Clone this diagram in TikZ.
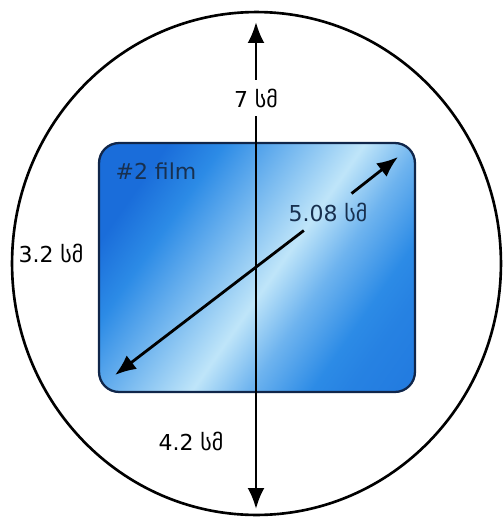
\documentclass[tikz,border=0pt]{standalone}
\usepackage{fontspec}
\setmainfont{DejaVu Sans}
\usepackage{xcolor}
\usepackage{tikz}
\usetikzlibrary{arrows.meta,shapes.geometric}
\definecolor{filmDark}{HTML}{1A6DDA}
\definecolor{filmMid}{HTML}{2C8BE6}
\definecolor{filmLight}{HTML}{BFE5F9}
\definecolor{filmEdge}{HTML}{10264A}
\definecolor{labelNavy}{HTML}{18304F}
\pgfdeclarehorizontalshading{filmshade}{100bp}{color(0bp)=(filmDark); color(25bp)=(filmDark); color(33bp)=(filmMid); color(44bp)=(filmLight!55!filmMid); color(53bp)=(filmLight); color(61bp)=(filmLight!45!filmMid); color(70bp)=(filmMid); color(75bp)=(filmMid!70!filmDark); color(100bp)=(filmDark)}

\begin{document}
\begin{tikzpicture}[x=0.02cm,y=-0.02cm,font=\fontsize{12.5}{14}\selectfont,
  dimarrow/.style={-{Latex[length=4.2mm,width=3.4mm]},line width=1.6pt},
  lbl/.style={inner sep=1pt},
  gap/.style={inner sep=5pt}]
\useasboundingbox (0,0) rectangle (503,521);
% --- dish and film ---
\node[ellipse,draw,line width=1.5pt,inner sep=0pt,
  minimum width=9.78cm,minimum height=10.06cm] (dish) at (256.5,263.5) {};
\node[rectangle,rounded corners=4mm,draw=filmEdge,line width=1.3pt,
  shade,shading=filmshade,shading angle=-35,
  minimum width=6.32cm,minimum height=4.98cm] (film) at (257,267.5) {};
\node[lbl,text=labelNavy] (name) at (156,171) {\#2 film};
% --- dimensions ---
\coordinate (vtop) at (256,22);
\coordinate (vbot) at (256,509);
\coordinate (dll) at (115,375);
\coordinate (dur) at (398,157);
\node[gap] (seven) at (256,98) {7 სმ};
\node[gap,text=labelNavy] (diag) at (328,212) {5.08 სმ};
\node[lbl] (left) at (51,253) {3.2 სმ};
\node[lbl] (below) at (191,441) {4.2 სმ};
\draw[dimarrow] (seven) -- (vtop);
\draw[dimarrow] (seven) -- (vbot);
\draw[dimarrow] (diag) -- (dll);
\draw[dimarrow] (diag) -- (dur);
\end{tikzpicture}
\end{document}
